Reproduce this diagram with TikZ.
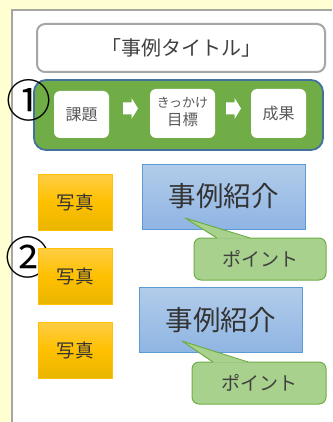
\documentclass[tikz,border=0pt]{standalone}
\usepackage{fontspec}
\setmainfont{Noto Sans CJK JP}
\definecolor{bgyellow}{HTML}{FFFFD2}
\definecolor{pageline}{HTML}{A6A6A6}
\definecolor{titlegray}{HTML}{404040}
\definecolor{grnfill}{HTML}{70AD47}
\definecolor{grnborder}{HTML}{41719C}
\definecolor{innertext}{HTML}{595959}
\definecolor{goldtop}{HTML}{FFCD45}
\definecolor{goldmid}{HTML}{FFC000}
\definecolor{goldbot}{HTML}{E9B500}
\definecolor{goldline}{HTML}{FFC000}
\definecolor{bluetop}{HTML}{B2CCEA}
\definecolor{bluebot}{HTML}{8FB5E3}
\definecolor{blueline}{HTML}{5B9BD5}
\definecolor{callfill}{HTML}{A9D18E}
\definecolor{callline}{HTML}{70AD47}
\tikzset{
  titlebox/.style={draw=pageline, line width=2pt, fill=white, rounded corners=8pt, text=titlegray, font=\fontsize{20}{21}\selectfont},
  flowbox/.style={draw=grnborder, line width=1.8pt, fill=grnfill, rounded corners=12pt},
  innerbox/.style={fill=white, rounded corners=6pt, text=innertext, align=center},
  wharrow/.style={fill=white, draw=none},
  photobox/.style={draw=goldline, line width=0.8pt, top color=goldtop, bottom color=goldbot, middle color=goldmid, minimum width=74pt, minimum height=56pt, text=black!80, font=\fontsize{18.5}{19}\selectfont},
  casebox/.style={draw=blueline, line width=0.9pt, top color=bluetop, bottom color=bluebot, minimum width=163pt, minimum height=65pt, text=black!80, font=\fontsize{27.5}{28}\selectfont},
  callbox/.style={draw=callline, line width=1pt, fill=callfill, rounded corners=7pt, text=black!75, font=\fontsize{19}{20}\selectfont},
  numlabel/.style={font=\fontsize{45}{45}\selectfont, text=black, inner sep=0pt}
}
\begin{document}
\begin{tikzpicture}[x=1pt,y=-1pt]
\useasboundingbox (0,0) rectangle (332,422);
\fill[bgyellow] (0,0) rectangle (332,422);
\fill[white] (12,10) rectangle (332,422);
\draw[pageline, line width=2pt] (12,422) -- (12,10) -- (332,10);

\node[titlebox, minimum width=288pt, minimum height=48pt] (title) at (181,48) {「事例タイトル」};

\node[flowbox, minimum width=289pt, minimum height=70pt] (flow) at (178.5,115) {};
\node[innerbox, minimum width=55pt, minimum height=47pt, font=\fontsize{16}{17}\selectfont] (kadai) at (81.5,114.5) {課題};
\node[innerbox, minimum width=65pt, minimum height=49pt] (mokuhyo) at (182.5,113.5) {};
\node[text=innertext, font=\fontsize{13}{14}\selectfont, inner sep=0pt] (kikkake) at (182.5,103) {きっかけ};
\node[text=innertext, font=\fontsize{15.5}{16}\selectfont, inner sep=0pt] (mok) at (182.5,120) {目標};
\node[innerbox, minimum width=55pt, minimum height=49pt, font=\fontsize{16}{17}\selectfont] (seika) at (278.5,113.5) {成果};
\coordinate (a1) at (123,108.5);
\coordinate (a2) at (226,108.5);
\foreach \a in {a1,a2}{
  \fill[wharrow] (\a) ++(0,-6) -- ++(8.5,0) -- ++(0,-4.5) -- ++(6.5,10.5) -- ++(-6.5,10.5) -- ++(0,-4.5) -- ++(-8.5,0) -- cycle;
}

\node[numlabel] (n1) at (29,100.5) {①};
\node[numlabel] (n2) at (28,257) {②};

\node[photobox] (p1) at (75,202) {写真};
\node[photobox] (p2) at (75,276) {写真};
\node[photobox] (p3) at (75,350) {写真};

\node[casebox] (c1) at (223.5,196.5) {事例紹介};
\node[casebox] (c2) at (220.5,320) {事例紹介};

% callout 1
\node[callbox, minimum width=132pt, minimum height=42pt] (k1) at (260,259) {ポイント};
\coordinate (t1) at (185,218);
\fill[callfill] (t1) -- (217,238.6) -- (250,238.6) -- cycle;
\draw[callline, line width=1pt, line join=round] (217,238) -- (t1) -- (250,238);
% callout 2
\node[callbox, minimum width=134pt, minimum height=42pt] (k2) at (259,383) {ポイント};
\coordinate (t2) at (182,341);
\fill[callfill] (t2) -- (213,362.6) -- (248,362.6) -- cycle;
\draw[callline, line width=1pt, line join=round] (213,362) -- (t2) -- (248,362);
\end{tikzpicture}
\end{document}
